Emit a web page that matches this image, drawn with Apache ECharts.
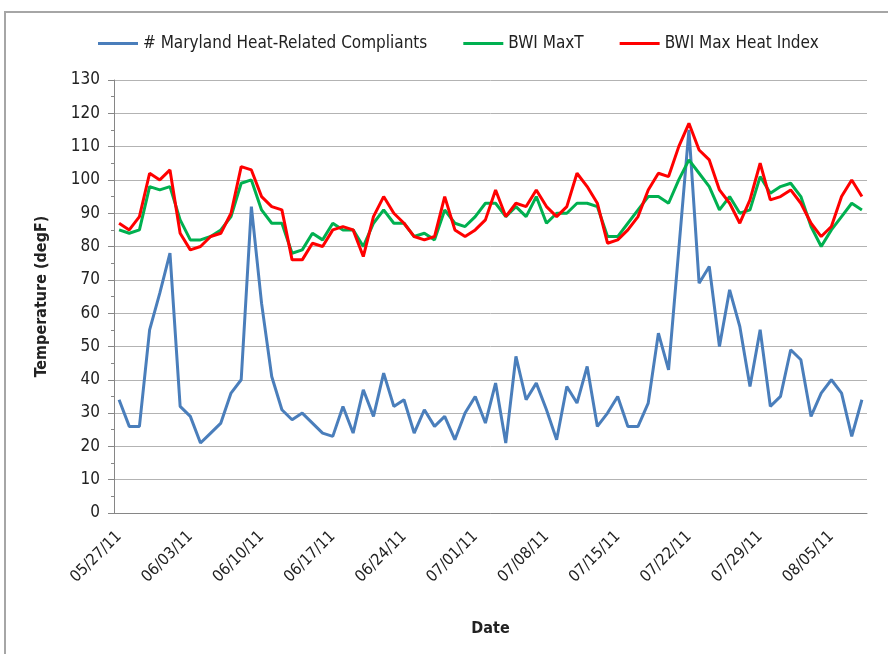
<!DOCTYPE html>
<html>
<head>
<meta charset="utf-8">
<script src="https://cdn.jsdelivr.net/npm/echarts@6/dist/echarts.min.js"></script>
<style>
    html, body { margin: 0; padding: 0; background: #fff; }
    #chart { width: 888px; height: 654px; }
</style>
</head>
<body>
<div id="chart"></div>
<script>
    //日期
    var dates = [
        '05/27/11', '05/28/11', '05/29/11', '05/30/11', '05/31/11',
        '06/01/11', '06/02/11', '06/03/11', '06/04/11', '06/05/11', '06/06/11', '06/07/11', '06/08/11', '06/09/11', '06/10/11',
        '06/11/11', '06/12/11', '06/13/11', '06/14/11', '06/15/11', '06/16/11', '06/17/11', '06/18/11', '06/19/11', '06/20/11',
        '06/21/11', '06/22/11', '06/23/11', '06/24/11', '06/25/11', '06/26/11', '06/27/11', '06/28/11', '06/29/11', '06/30/11',
        '07/01/11', '07/02/11', '07/03/11', '07/04/11', '07/05/11', '07/06/11', '07/07/11', '07/08/11', '07/09/11', '07/10/11',
        '07/11/11', '07/12/11', '07/13/11', '07/14/11', '07/15/11', '07/16/11', '07/17/11', '07/18/11', '07/19/11', '07/20/11',
        '07/21/11', '07/22/11', '07/23/11', '07/24/11', '07/25/11', '07/26/11', '07/27/11', '07/28/11', '07/29/11', '07/30/11',
        '07/31/11', '08/01/11', '08/02/11', '08/03/11', '08/04/11', '08/05/11', '08/06/11', '08/07/11', '08/08/11'
    ];
    //投诉数
    var complaints = [
        34, 26, 26, 55, 66, 78, 32, 29, 21, 24, 27,
        36, 40, 92, 63, 41, 31, 28, 30, 27, 24,
        23, 32, 24, 37, 29, 42, 32, 34, 24, 31,
        26, 29, 22, 30, 35, 27, 39, 21, 47, 34,
        39, 31, 22, 38, 33, 44, 26, 30, 35, 26,
        26, 33, 54, 43, 79, 115, 69, 74, 50, 67,
        56, 38, 55, 32, 35, 49, 46, 29, 36, 40,
        36, 23, 34
    ];
    //最高气温
    var maxT = [
        85, 84, 85, 98, 97, 98, 88, 82, 82, 83, 85, 89, 99, 100, 91, 87, 87, 78, 79, 84, 82, 87, 85, 85, 80,
        87, 91, 87, 87, 83, 84, 82, 91, 87, 86, 89, 93, 93, 89, 92, 89, 95, 87, 90, 90, 93, 93, 92, 83, 83, 87,
        91, 95, 95, 93, 100, 106, 102, 98, 91, 95, 90, 91, 101, 96, 98, 99, 95, 86, 80, 85, 89, 93, 91
    ];
    //最高热指数
    var maxHeatIndex = [
        87, 85, 89, 102, 100, 103, 84, 79, 80, 83, 84, 90, 104, 103, 95, 92, 91, 76, 76, 81, 80, 85, 86, 85, 77,
        89, 95, 90, 87, 83, 82, 83, 95, 85, 83, 85, 88, 97, 89, 93, 92, 97, 92, 89, 92, 102, 98, 93, 81, 82, 85,
        89, 97, 102, 101, 110, 117, 109, 106, 97, 93, 87, 94, 105, 94, 95, 97, 93, 87, 83, 86, 95, 100, 95
    ];

    var font = "'Liberation Sans Narrow', 'DejaVu Sans Condensed', sans-serif";

    var myChart = echarts.init(document.getElementById('chart'));
    var myOption = {
        backgroundColor: '#fff',
        animation: false,
        textStyle: { fontFamily: font },
        graphic: [{
            type: 'rect',
            shape: { x: 5, y: 12, width: 900, height: 700 },
            style: { fill: 'none', stroke: '#a6a6a6', lineWidth: 2 },
            silent: true
        }],
        legend: {
            left: 93,
            top: 30,
            icon: 'rect',
            itemWidth: 40,
            itemHeight: 3,
            itemGap: 36,
            textStyle: { fontSize: 17, color: '#222', fontFamily: font }
        },
        grid: { left: 114, right: 21, top: 80, bottom: 141 },
        xAxis: {
            type: 'category',
            data: dates,
            boundaryGap: true,
            name: 'Date',
            nameLocation: 'middle',
            nameGap: 108,
            nameTextStyle: { fontSize: 16, fontWeight: 'bold', color: '#222', fontFamily: font },
            axisLine: { lineStyle: { color: '#868686', width: 1 } },
            axisTick: { interval: 6, length: 5, lineStyle: { color: '#868686' } },
            axisLabel: { interval: 6, rotate: 45, fontSize: 16, color: '#222', margin: 21, fontFamily: font }
        },
        yAxis: {
            type: 'value',
            min: 0,
            max: 130,
            interval: 10,
            name: 'Temperature (degF)',
            nameLocation: 'middle',
            nameGap: 64,
            nameRotate: 90,
            nameTextStyle: { fontSize: 16, fontWeight: 'bold', color: '#222', fontFamily: font },
            axisLine: { show: true, lineStyle: { color: '#868686', width: 1 } },
            axisTick: { show: true, length: 6, lineStyle: { color: '#868686' } },
            minorTick: { show: true, splitNumber: 2, length: 3, lineStyle: { color: '#868686' } },
            splitLine: { lineStyle: { color: '#b3b3b3', width: 1 } },
            axisLabel: { fontSize: 17, color: '#222', margin: 14, fontFamily: font }
        },
        series: [
            {
                name: '# Maryland Heat-Related Compliants',
                type: 'line',
                data: complaints,
                symbol: 'none',
                color: '#4a7ebb',
                lineStyle: { width: 3 }
            },
            {
                name: 'BWI MaxT',
                type: 'line',
                data: maxT,
                symbol: 'none',
                color: '#00b050',
                lineStyle: { width: 3 }
            },
            {
                name: 'BWI Max Heat Index',
                type: 'line',
                data: maxHeatIndex,
                symbol: 'none',
                color: '#ff0000',
                lineStyle: { width: 3 }
            }
        ]
    };
    myChart.setOption(myOption);
</script>
</body>
</html>
